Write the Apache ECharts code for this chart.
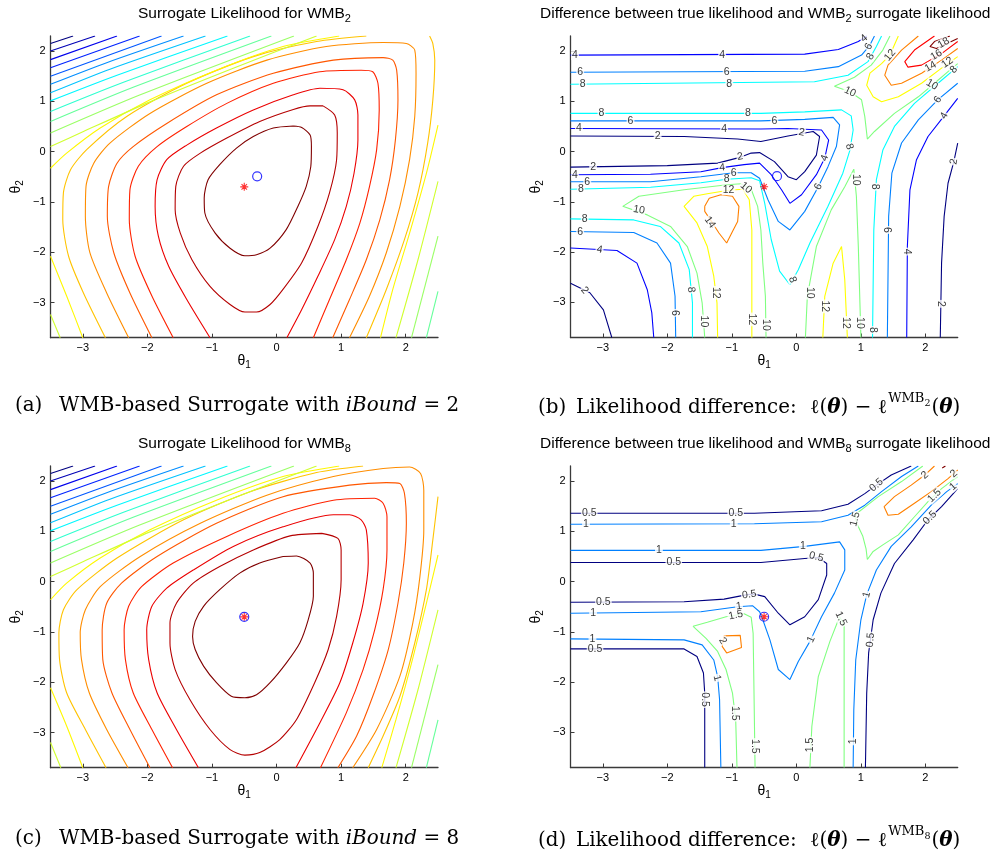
<!DOCTYPE html>
<html>
<head>
<meta charset="utf-8">
<script src="https://cdn.jsdelivr.net/npm/echarts@6/dist/echarts.min.js"></script>
<style>
  html, body { margin: 0; padding: 0; background: #ffffff; }
  #chart { width: 995px; height: 861px; }
</style>
</head>
<body>
<div id="chart"></div>
<script>
// ---- axis ticks shared by all four panels ----
const thetaTicks = [-3, -2, -1, 0, 1, 2];
const theta1Range = [-3.5, 2.5];
const theta2Range = [-3.7, 2.3];

// ---- maxima: true likelihood (asterisk) and surrogate (circle) ----
const trueMax = [-0.5, -0.7];
const wmb2Max = [-0.3, -0.49];
const wmb8Max = [-0.5, -0.7];

// ---- surrogate likelihood, iBound = 2: [level rank (1 = highest), points] ----
const wmb2Contours = [
  [1, [[0.26,0.51],[0.39,0.48],[0.52,0.33],[0.54,0.10],[0.53,-0.30],[0.46,-0.69],[0.33,-1.09],[0.15,-1.55],[-0.10,-1.92],[-0.31,-2.05],[-0.49,-2.07],[-0.72,-1.92],[-0.95,-1.62],[-1.11,-1.22],[-1.12,-0.92],[-1.06,-0.56],[-0.88,-0.26],[-0.62,0.07],[-0.36,0.30],[-0.05,0.47],[0.26,0.51]]],
  [2, [[0.72,0.91],[0.90,0.73],[0.94,0.37],[0.93,-0.16],[0.82,-0.82],[0.64,-1.49],[0.39,-2.21],[0.10,-2.74],[-0.10,-3.04],[-0.31,-3.19],[-0.49,-3.19],[-0.72,-3.04],[-1.03,-2.68],[-1.31,-2.15],[-1.49,-1.62],[-1.57,-1.15],[-1.56,-0.69],[-1.44,-0.29],[-1.18,-0.03],[-0.77,0.27],[-0.26,0.60],[0.26,0.84],[0.52,0.91],[0.72,0.91]]],
  [3, [[-1.03,-3.7],[-1.39,-2.94],[-1.67,-2.28],[-1.83,-1.68],[-1.88,-1.09],[-1.85,-0.56],[-1.70,-0.16],[-1.39,0.13],[-0.93,0.47],[-0.36,0.83],[0.26,1.13],[0.67,1.26],[1.03,1.23],[1.21,1.03],[1.26,0.73],[1.26,0.23],[1.20,-0.43],[1.08,-1.09],[0.90,-1.75],[0.64,-2.48],[0.39,-3.14],[0.16,-3.7]]],
  [4, [[-1.60,-3.7],[-1.93,-2.87],[-2.19,-2.08],[-2.28,-1.35],[-2.27,-0.76],[-2.14,-0.29],[-1.85,0.10],[-1.39,0.50],[-0.77,0.96],[-0.05,1.36],[0.67,1.59],[1.31,1.62],[1.49,1.59],[1.57,1.36],[1.59,0.83],[1.55,0.04],[1.44,-0.69],[1.29,-1.42],[1.08,-2.15],[0.82,-2.94],[0.57,-3.7]]],
  [5, [[-1.93,-3.7],[-2.27,-2.81],[-2.52,-2.01],[-2.62,-1.29],[-2.60,-0.69],[-2.47,-0.23],[-2.22,0.10],[-1.70,0.56],[-0.93,1.13],[-0.05,1.56],[0.88,1.82],[1.65,1.87],[1.80,1.82],[1.86,1.62],[1.88,1.03],[1.84,0.23],[1.75,-0.56],[1.60,-1.35],[1.39,-2.15],[1.13,-2.94],[0.87,-3.7]]],
  [6, [[-2.29,-3.7],[-2.63,-2.81],[-2.89,-2.01],[-2.96,-1.29],[-2.95,-0.69],[-2.83,-0.23],[-2.58,0.17],[-1.96,0.76],[-1.08,1.36],[-0.15,1.82],[0.77,2.09],[1.65,2.17],[2.01,2.15],[2.14,2.02],[2.16,1.56],[2.14,0.70],[2.06,-0.16],[1.91,-1.09],[1.70,-2.01],[1.44,-2.87],[1.13,-3.7]]],
  [7, [[-2.65,-3.7],[-2.99,-2.81],[-3.22,-2.08],[-3.31,-1.35],[-3.30,-0.82],[-3.19,-0.36],[-2.94,0.04],[-2.32,0.70],[-1.39,1.36],[-0.36,1.89],[0.62,2.19],[1.39,2.3]]],
  [7, [[2.37,2.3],[2.42,2.15],[2.45,1.82],[2.42,1.03],[2.34,0.17],[2.19,-0.82],[1.98,-1.75],[1.70,-2.74],[1.39,-3.7]]],
  [8, [[-3.5,-0.33],[-3.25,-0.03],[-2.73,0.47],[-1.96,1.03],[-0.93,1.62],[0.10,2.09],[0.97,2.3]]],
  [8, [[2.5,0.53],[2.32,-0.43],[2.06,-1.62],[1.80,-2.74],[1.61,-3.7]]],
  [8, [[-3.5,-2.08],[-3.25,-2.87],[-3.0,-3.7]]],
  [9, [[-3.5,0.10],[-2.99,0.40],[-1.96,0.99],[-0.67,1.66],[0.62,2.3]]],
  [9, [[2.5,-0.59],[2.19,-2.15],[1.85,-3.7]]],
  [9, [[-3.5,-3.24],[-3.35,-3.7]]],
  [10, [[-3.5,0.37],[-2.11,1.13],[0.27,2.3]]],
  [10, [[2.5,-1.68],[2.09,-3.7]]],
  [11, [[-3.5,0.60],[-2.22,1.28],[-0.08,2.3]]],
  [11, [[2.5,-2.78],[2.32,-3.7]]],
  [12, [[-3.5,0.80],[-2.37,1.38],[-0.41,2.3]]],
  [13, [[-3.5,1.01],[-2.47,1.52],[-0.76,2.3]]],
  [14, [[-3.5,1.17],[-2.58,1.64],[-1.10,2.3]]],
  [15, [[-3.5,1.34],[-2.63,1.77],[-1.44,2.3]]],
  [16, [[-3.5,1.50],[-1.78,2.3]]],
  [17, [[-3.5,1.67],[-2.12,2.3]]],
  [18, [[-3.5,1.83],[-2.47,2.3]]],
  [19, [[-3.5,2.00],[-2.81,2.3]]],
  [20, [[-3.5,2.15],[-3.15,2.3]]]
];

// ---- surrogate likelihood, iBound = 8 ----
const wmb8Contours = [
  [1, [[0.10,0.50],[0.31,0.51],[0.52,0.37],[0.57,0.17],[0.57,-0.29],[0.49,-0.76],[0.36,-1.22],[0.15,-1.62],[-0.10,-2.01],[-0.31,-2.25],[-0.49,-2.31],[-0.70,-2.28],[-0.93,-2.01],[-1.13,-1.68],[-1.26,-1.35],[-1.30,-1.09],[-1.26,-0.79],[-1.13,-0.49],[-0.88,-0.16],[-0.57,0.17],[-0.26,0.37],[0.10,0.50]]],
  [2, [[0.70,0.96],[0.95,0.86],[1.00,0.63],[1.00,0.04],[0.93,-0.69],[0.80,-1.35],[0.59,-2.01],[0.31,-2.74],[0.05,-3.14],[-0.26,-3.40],[-0.49,-3.45],[-0.72,-3.34],[-1.03,-2.94],[-1.34,-2.35],[-1.57,-1.75],[-1.65,-1.22],[-1.65,-0.82],[-1.55,-0.43],[-1.29,-0.03],[-0.88,0.30],[-0.36,0.63],[0.21,0.91],[0.70,0.96]]],
  [3, [[-1.21,-3.7],[-1.55,-2.94],[-1.85,-2.21],[-1.98,-1.55],[-2.01,-0.96],[-1.93,-0.49],[-1.70,-0.13],[-1.29,0.23],[-0.67,0.70],[0.10,1.09],[0.88,1.33],[1.13,1.33],[1.31,1.23],[1.39,1.03],[1.42,0.37],[1.34,-0.43],[1.18,-1.22],[0.98,-2.01],[0.67,-2.81],[0.30,-3.7]]],
  [4, [[-1.61,-3.7],[-1.93,-2.94],[-2.22,-2.21],[-2.34,-1.55],[-2.36,-0.96],[-2.29,-0.49],[-2.09,-0.10],[-1.60,0.37],[-0.77,0.90],[0.10,1.36],[0.88,1.62],[1.52,1.66],[1.65,1.56],[1.71,1.29],[1.71,0.63],[1.65,-0.16],[1.52,-0.96],[1.34,-1.75],[1.08,-2.61],[0.68,-3.7]]],
  [5, [[-1.96,-3.7],[-2.27,-2.94],[-2.55,-2.21],[-2.69,-1.55],[-2.70,-0.96],[-2.63,-0.43],[-2.40,-0.03],[-1.85,0.50],[-0.93,1.16],[0.10,1.69],[1.13,1.92],[1.70,1.97],[1.91,1.95],[1.98,1.76],[2.01,1.16],[1.97,0.37],[1.88,-0.43],[1.73,-1.35],[1.49,-2.28],[1.24,-3.07],[0.95,-3.7]]],
  [6, [[-2.30,-3.7],[-2.63,-2.94],[-2.90,-2.21],[-3.02,-1.55],[-3.04,-1.02],[-2.96,-0.56],[-2.73,-0.10],[-2.11,0.50],[-1.18,1.16],[-0.15,1.72],[0.88,2.09],[1.65,2.25],[2.06,2.28],[2.23,2.15],[2.28,1.82],[2.28,1.03],[2.22,0.10],[2.11,-0.82],[1.91,-1.88],[1.55,-2.94],[1.18,-3.7]]],
  [7, [[-2.64,-3.7],[-2.96,-2.94],[-3.25,-2.21],[-3.36,-1.55],[-3.37,-1.02],[-3.30,-0.56],[-3.09,-0.16],[-2.47,0.47],[-1.44,1.23],[-0.41,1.79],[0.62,2.17],[1.34,2.3]]],
  [7, [[2.5,1.69],[2.42,0.83],[2.32,-0.16],[2.14,-1.22],[1.91,-2.28],[1.65,-3.07],[1.42,-3.7]]],
  [8, [[-3.5,-0.36],[-3.25,-0.03],[-2.73,0.47],[-1.96,1.03],[-0.93,1.62],[0.10,2.09],[0.97,2.3]]],
  [8, [[2.5,0.53],[2.32,-0.43],[2.09,-1.62],[1.85,-2.74],[1.63,-3.7]]],
  [8, [[-3.5,-2.11],[-3.25,-2.87],[-3.0,-3.7]]],
  [9, [[-3.5,0.10],[-2.99,0.40],[-1.96,0.99],[-0.67,1.66],[0.62,2.3]]],
  [9, [[2.5,-0.56],[2.19,-2.15],[1.85,-3.7]]],
  [9, [[-3.5,-3.2],[-3.34,-3.7]]],
  [10, [[-3.5,0.37],[-2.11,1.13],[0.27,2.3]]],
  [10, [[2.5,-1.65],[2.09,-3.7]]],
  [11, [[-3.5,0.60],[-2.22,1.28],[-0.08,2.3]]],
  [11, [[2.5,-2.75],[2.32,-3.7]]],
  [12, [[-3.5,0.80],[-2.37,1.38],[-0.41,2.3]]],
  [13, [[-3.5,1.01],[-2.47,1.52],[-0.76,2.3]]],
  [14, [[-3.5,1.17],[-2.58,1.64],[-1.10,2.3]]],
  [15, [[-3.5,1.34],[-2.63,1.77],[-1.44,2.3]]],
  [16, [[-3.5,1.50],[-1.78,2.3]]],
  [17, [[-3.5,1.67],[-2.12,2.3]]],
  [18, [[-3.5,1.83],[-2.47,2.3]]],
  [19, [[-3.5,2.00],[-2.81,2.3]]],
  [20, [[-3.5,2.15],[-3.15,2.3]]]
];
const surrogateLevelCount = 20;

// ---- likelihood difference, iBound = 2: [level, points] ----
const diff2Levels = [2, 4, 6, 8, 10, 12, 14, 16, 18];
const diff2Contours = [
  [4, [[-3.5,1.92],[0.13,1.94],[0.65,2.03],[0.96,2.19],[1.09,2.3]]],
  [6, [[-3.5,1.58],[0.13,1.60],[0.65,1.69],[1.01,1.92],[1.14,2.12],[1.21,2.3]]],
  [8, [[-3.5,1.34],[0.28,1.39],[0.80,1.52],[1.11,1.79],[1.24,2.09],[1.32,2.3]]],
  [2, [[-3.5,0.31],[-1.74,0.30],[-0.91,0.25],[-0.55,0.20],[-0.13,0.31],[0.26,0.40],[0.36,0.30],[0.31,-0.07],[0.13,-0.40],[0,-0.56],[-0.13,-0.50],[-0.34,-0.20],[-0.57,-0.02],[-0.70,-0.03],[-0.86,-0.11],[-1.22,-0.23],[-2.0,-0.28],[-3.5,-0.31]]],
  [4, [[-3.5,0.46],[-0.55,0.45],[-0.13,0.46],[0.39,0.43],[0.50,0.23],[0.44,-0.13],[0.31,-0.46],[0.08,-0.86],[-0.10,-1.03],[-0.23,-0.76],[-0.39,-0.46],[-0.57,-0.23],[-0.81,-0.26],[-1.15,-0.32],[-1.48,-0.40],[-2.26,-0.45],[-3.5,-0.46]]],
  [6, [[-3.5,0.61],[-0.55,0.61],[0.13,0.64],[0.57,0.68],[0.67,0.53],[0.62,0.10],[0.49,-0.30],[0.34,-0.70],[0.13,-1.19],[-0.10,-1.56],[-0.28,-1.39],[-0.44,-0.96],[-0.57,-0.53],[-0.70,-0.42],[-0.97,-0.42],[-1.48,-0.50],[-2.26,-0.60],[-3.5,-0.60]]],
  [8, [[-3.5,0.76],[-0.55,0.76],[0.13,0.79],[0.70,0.83],[0.85,0.71],[0.88,0.43],[0.83,0.03],[0.72,-0.43],[0.49,-1.09],[0.21,-1.82],[0.03,-2.35],[-0.10,-2.65],[-0.26,-2.38],[-0.39,-1.75],[-0.49,-1.03],[-0.57,-0.58],[-0.70,-0.52],[-1.08,-0.55],[-1.48,-0.62],[-2.26,-0.71],[-3.5,-0.75]]],
  [10, [[-1.42,-3.7],[-1.46,-3.01],[-1.54,-2.42],[-1.69,-1.89],[-1.95,-1.49],[-2.31,-1.26],[-2.69,-1.09],[-2.44,-0.89],[-1.74,-0.76],[-1.07,-0.66],[-0.86,-0.64],[-0.70,-0.75],[-0.60,-1.09],[-0.55,-1.56],[-0.52,-2.22],[-0.48,-2.88],[-0.47,-3.7]]],
  [12, [[-1.22,-3.7],[-1.23,-3.01],[-1.28,-2.48],[-1.38,-1.89],[-1.54,-1.42],[-1.74,-1.09],[-1.59,-0.89],[-1.38,-0.84],[-1.05,-0.77],[-0.83,-0.75],[-0.73,-0.96],[-0.69,-1.56],[-0.69,-2.55],[-0.69,-3.7]]],
  [14, [[-1.42,-1.09],[-1.35,-0.93],[-1.17,-0.86],[-0.99,-0.89],[-0.89,-1.09],[-0.91,-1.39],[-0.99,-1.59],[-1.08,-1.82],[-1.20,-1.62],[-1.30,-1.42],[-1.42,-1.19],[-1.42,-1.09]]],
  [8, [[-3.5,-1.34],[-2.52,-1.36],[-2.11,-1.49],[-1.82,-1.82],[-1.66,-2.35],[-1.61,-3.01],[-1.61,-3.7]]],
  [6, [[-3.5,-1.59],[-2.52,-1.61],[-2.16,-1.82],[-1.95,-2.22],[-1.88,-2.88],[-1.87,-3.7]]],
  [4, [[-3.5,-1.92],[-2.78,-1.97],[-2.47,-2.22],[-2.31,-2.75],[-2.24,-3.21],[-2.21,-3.7]]],
  [2, [[-3.5,-2.62],[-3.20,-2.81],[-2.99,-3.15],[-2.86,-3.7]]],
  [10, [[0.14,-3.7],[0.17,-2.88],[0.31,-1.89],[0.54,-1.16],[0.75,-0.70],[0.89,-0.35],[0.93,-0.89],[0.96,-1.89],[1.0,-3.7]]],
  [12, [[0.41,-3.7],[0.44,-2.88],[0.57,-2.22],[0.70,-1.89],[0.75,-2.55],[0.79,-3.7]]],
  [8, [[2.5,1.69],[2.25,1.42],[1.83,0.96],[1.52,0.50],[1.34,0.03],[1.24,-0.56],[1.20,-1.56],[1.18,-3.7]]],
  [6, [[2.5,1.36],[2.19,1.03],[1.89,0.63],[1.63,0.17],[1.48,-0.43],[1.43,-1.29],[1.41,-3.7]]],
  [4, [[2.5,1.06],[2.29,0.71],[2.04,0.30],[1.86,-0.17],[1.76,-0.76],[1.72,-1.89],[1.71,-3.7]]],
  [2, [[2.5,0.17],[2.44,-0.20],[2.35,-0.63],[2.29,-1.29],[2.25,-2.22],[2.23,-3.7]]],
  [10, [[1.45,2.3],[1.34,2.02],[1.16,1.72],[0.90,1.48],[0.59,1.30],[0.83,1.19],[1.01,1.03],[1.06,0.70],[1.10,0.25],[1.21,0.40],[1.52,0.76],[1.89,1.09],[2.14,1.36],[2.35,1.59],[2.5,1.75]]],
  [12, [[1.58,2.3],[1.45,1.92],[1.32,1.75],[1.14,1.56],[1.09,1.32],[1.19,1.09],[1.32,0.99],[1.58,1.09],[1.94,1.36],[2.25,1.66],[2.5,1.89]]],
  [14, [[1.89,2.3],[1.63,2.02],[1.42,1.72],[1.37,1.52],[1.47,1.32],[1.63,1.36],[1.94,1.56],[2.25,1.82],[2.5,2.05]]],
  [16, [[2.14,2.3],[1.83,2.02],[1.68,1.79],[1.73,1.68],[1.94,1.72],[2.25,1.95],[2.5,2.19]]],
  [18, [[2.38,2.3],[2.14,2.19],[2.07,2.09],[2.17,2.05],[2.5,2.25]]]
];
// inline labels: [level, theta1, theta2, rotation in degrees]
const diff2Labels = [
  [4,-3.43,1.92,0],[4,-1.15,1.92,0],[6,-3.35,1.58,0],[6,-1.08,1.58,0],
  [8,-3.31,1.34,0],[8,-1.04,1.34,0],[8,-3.02,0.76,0],[8,-0.75,0.76,0],
  [6,-2.57,0.61,0],[4,-3.37,0.46,0],[4,-1.12,0.45,0],[2,-2.15,0.30,0],
  [2,-3.15,-0.31,0],[2,-0.87,-0.10,10],[4,-3.43,-0.46,0],[4,-1.15,-0.32,5],
  [6,-3.24,-0.60,0],[6,-0.97,-0.42,0],[8,-3.34,-0.75,0],[8,-1.08,-0.55,0],
  [10,-2.44,-1.16,-10],[12,-1.05,-0.77,0],[10,-0.78,-0.72,-40],[14,-1.34,-1.41,-55],
  [8,-3.28,-1.35,0],[6,-3.35,-1.60,0],[4,-3.05,-1.95,-10],[2,-3.28,-2.76,-50],
  [8,-1.63,-2.75,-85],[6,-1.88,-3.21,-90],[12,-1.25,-2.81,-90],[10,-1.44,-3.38,-90],[12,-0.69,-3.34,-90],
  [4,1.05,2.25,40],[6,1.12,2.09,60],[8,1.15,1.89,60],[12,1.45,1.92,50],
  [18,2.28,2.16,30],[16,2.17,1.92,30],[14,2.08,1.69,30],[12,2.34,1.77,35],[10,2.10,1.33,-30],
  [8,2.44,1.63,45],[6,2.19,1.03,55],[4,2.29,0.71,60],
  [10,0.83,1.19,-25],[6,-0.34,0.61,0],[2,0.08,0.38,-10],[8,0.82,0.10,-75],[4,0.44,-0.13,70],[6,0.34,-0.70,65],[8,-0.06,-2.55,-70],
  [10,0.93,-0.56,-90],[8,1.22,-0.70,-90],[6,1.41,-1.56,-90],[4,1.71,-1.99,-90],[2,2.44,-0.20,80],[2,2.24,-3.03,-90],
  [10,0.21,-2.81,-90],[12,0.44,-3.08,-90],[12,0.77,-3.41,-90],[10,0.99,-3.41,-90],[8,1.18,-3.55,-90],[10,-0.47,-3.45,-90]
];

// ---- likelihood difference, iBound = 8 ----
const diff8Levels = [0.5, 1, 1.5, 2, 2.5];
const diff8Contours = [
  [0.5, [[-3.5,1.36],[-0.65,1.36],[0.39,1.41],[0.80,1.54],[1.06,1.75],[1.24,1.92],[1.47,2.12],[1.78,2.3]]],
  [1, [[-3.5,1.14],[-0.65,1.15],[0.39,1.19],[0.80,1.32],[1.06,1.52],[1.32,1.79],[1.63,2.09],[1.89,2.3]]],
  [1.5, [[1.96,2.3],[1.63,1.99],[1.27,1.69],[0.90,1.32],[0.95,1.12],[1.03,0.90],[1.08,0.65],[1.10,0.44],[1.19,0.60],[1.34,0.73],[1.58,0.93],[1.83,1.29],[2.04,1.59],[2.25,1.85],[2.5,2.09]]],
  [2, [[2.14,2.3],[1.99,2.12],[1.78,1.92],[1.52,1.69],[1.36,1.49],[1.42,1.32],[1.58,1.34],[1.83,1.56],[2.09,1.79],[2.35,2.05],[2.5,2.22]]],
  [2.5, [[2.26,2.26],[2.31,2.3]]],
  [0.5, [[1.07,-3.7],[1.09,-2.22],[1.12,-1.42],[1.19,-0.76],[1.31,-0.23],[1.52,0.36],[1.81,0.83],[2.04,1.23],[2.25,1.49],[2.5,1.85]]],
  [1, [[0.88,-3.7],[0.89,-2.55],[0.92,-1.56],[1.0,-0.76],[1.09,-0.26],[1.24,0.23],[1.47,0.70],[1.78,1.09],[2.09,1.52],[2.33,1.79],[2.5,1.95]]],
  [1.5, [[0.21,-3.7],[0.24,-2.88],[0.34,-1.89],[0.52,-1.19],[0.67,-0.70],[0.74,-0.86],[0.74,-1.89],[0.74,-3.7]]],
  [0.5, [[-3.5,0.38],[-0.55,0.38],[0.13,0.46],[0.34,0.48],[0.47,0.36],[0.47,0.13],[0.34,-0.36],[0.13,-0.70],[-0.10,-0.86],[-0.28,-0.63],[-0.49,-0.30],[-0.65,-0.25],[-0.76,-0.26],[-1.12,-0.35],[-1.74,-0.40],[-3.5,-0.41]]],
  [1, [[-3.5,0.62],[-0.55,0.62],[0.13,0.70],[0.67,0.79],[0.75,0.63],[0.75,0.23],[0.59,-0.23],[0.39,-0.70],[0.21,-1.19],[0.03,-1.59],[-0.10,-1.95],[-0.28,-1.75],[-0.41,-1.16],[-0.52,-0.76],[-0.57,-0.60],[-0.68,-0.48],[-0.91,-0.50],[-1.48,-0.60],[-3.5,-0.63]]],
  [1.5, [[-0.64,-3.7],[-0.66,-1.89],[-0.67,-1.03],[-0.70,-0.71],[-0.81,-0.64],[-1.09,-0.70],[-1.38,-0.81],[-1.60,-0.89],[-1.40,-1.13],[-1.22,-1.39],[-1.09,-1.75],[-0.99,-2.22],[-0.94,-2.75],[-0.92,-3.7]]],
  [2, [[-1.12,-1.08],[-0.87,-1.07],[-0.85,-1.31],[-1.08,-1.42],[-1.15,-1.29],[-1.12,-1.08]]],
  [0.5, [[-3.5,-1.34],[-1.74,-1.34],[-1.54,-1.49],[-1.44,-1.82],[-1.42,-2.22],[-1.42,-3.7]]],
  [1, [[-3.5,-1.14],[-1.74,-1.16],[-1.46,-1.26],[-1.28,-1.56],[-1.22,-1.89],[-1.19,-2.35],[-1.17,-3.7]]]
];
const diff8Labels = [
  [0.5,-3.21,1.36,0],[0.5,-0.94,1.36,0],[0.5,1.24,1.92,40],
  [1,-3.26,1.14,0],[1,-0.97,1.14,0],[1,-2.13,0.62,0],[0.5,-1.90,0.38,0],
  [0.5,-2.99,-0.41,0],[0.5,-0.73,-0.26,8],[1,-3.15,-0.63,0],[1,-0.89,-0.49,8],
  [1.5,-0.94,-0.67,12],[2,-1.14,-1.18,-60],[1,-3.16,-1.15,0],[0.5,-3.12,-1.34,0],
  [1,-1.23,-1.92,-75],[0.5,-1.42,-2.35,-90],[1.5,-0.95,-2.62,-90],[1.5,-0.64,-3.28,-90],
  [1,0.10,0.70,0],[0.5,0.31,0.49,-15],[1,0.23,-1.15,65],[1.5,0.69,-0.74,-65],
  [1.5,0.22,-3.25,90],[1,0.88,-3.18,90],[1,1.09,-0.26,75],[0.5,1.15,-1.16,85],
  [0.5,2.07,1.27,45],[1,2.43,1.89,40],[1.5,0.91,1.24,75],[1.5,2.14,1.71,45],[2,1.99,2.12,40],[2,2.44,2.15,40]
];

// ---- text ----
const plotTitles = [
  ['Surrogate Likelihood for WMB', '2'],
  ['Difference between true likelihood and WMB', '2', ' surrogate likelihood'],
  ['Surrogate Likelihood for WMB', '8'],
  ['Difference between true likelihood and WMB', '8', ' surrogate likelihood']
];

// ---- drawing ----
const SANS = "'Liberation Sans', Arial, Helvetica, sans-serif";
const SERIF = "'DejaVu Serif', serif";

function jet(t) {
  const c = v => Math.round(255 * Math.max(0, Math.min(1, v)));
  return 'rgb(' + c(Math.min(4 * t - 1.5, -4 * t + 4.5)) + ',' +
    c(Math.min(4 * t - 0.5, -4 * t + 3.5)) + ',' + c(Math.min(4 * t + 0.5, -4 * t + 2.5)) + ')';
}
const rankColor = r => jet((surrogateLevelCount - r) / (surrogateLevelCount - 1));
const levelColor = levels => v => jet((v - levels[0]) / (levels[levels.length - 1] - levels[0]));

const fmtTick = v => (v < 0 ? '\u2212' + Math.abs(v) : String(v));

const gridBoxes = [
  { left: 50.5, top: 36, width: 387.5, height: 301.7 },
  { left: 570.5, top: 36, width: 387.2, height: 301.5 },
  { left: 50.5, top: 466, width: 387.5, height: 301.7 },
  { left: 570.5, top: 466, width: 387.2, height: 301.5 }
];

const axisColor = '#3a3a3a';
const nameRich = {
  t: { fontFamily: SANS, fontSize: 14, color: '#000' },
  s: { fontFamily: SANS, fontSize: 10, color: '#000', padding: [8, 0, 0, 0] }
};

function xAxisFor(i) {
  return {
    type: 'value', gridIndex: i, min: theta1Range[0], max: theta1Range[1],
    axisLine: { onZero: false, lineStyle: { color: axisColor, width: 1.3 } },
    axisTick: { inside: true, length: 4, customValues: thetaTicks, lineStyle: { color: axisColor, width: 1 } },
    axisLabel: { customValues: thetaTicks, formatter: fmtTick, color: '#000', fontFamily: SANS, fontSize: 11, margin: 5 },
    splitLine: { show: false },
    name: '{t|\u03b8}{s|1}', nameLocation: 'middle', nameGap: 12,
    nameTextStyle: { rich: nameRich }
  };
}
function yAxisFor(i) {
  return {
    type: 'value', gridIndex: i, min: theta2Range[0], max: theta2Range[1],
    axisLine: { onZero: false, lineStyle: { color: axisColor, width: 1.3 } },
    axisTick: { inside: true, length: 4, customValues: thetaTicks, lineStyle: { color: axisColor, width: 1 } },
    axisLabel: { customValues: thetaTicks, formatter: fmtTick, color: '#000', fontFamily: SANS, fontSize: 11, margin: 5 },
    splitLine: { show: false },
    name: '{t|\u03b8}{s|2}', nameLocation: 'middle', nameGap: 25,
    nameTextStyle: { rich: nameRich }
  };
}

function contourLines(pieces, gi, colorOf, smooth) {
  return pieces.map(([lev, pts]) => ({
    type: 'line', xAxisIndex: gi, yAxisIndex: gi, data: pts,
    symbol: 'none', showSymbol: false, smooth: smooth, silent: true, clip: true, z: 2,
    lineStyle: { color: colorOf(lev), width: 1.1 }
  }));
}
function contourLabels(labels, gi) {
  return {
    type: 'scatter', xAxisIndex: gi, yAxisIndex: gi, symbolSize: 1, silent: true, z: 5,
    itemStyle: { color: 'rgba(0,0,0,0)' },
    data: labels.map(([v, x, y, r]) => ({ value: [x, y], label: { formatter: String(v), rotate: r } })),
    label: { show: true, position: 'inside', fontFamily: SANS, fontSize: 10.5, color: '#000',
      backgroundColor: '#ffffff', padding: [0, 1], lineHeight: 10 }
  };
}
const STAR = 'path://M5 0L5 10M0 5L10 5M1.6 1.6L8.4 8.4M1.6 8.4L8.4 1.6';
function maxMarkers(gi, surMax) {
  return [
    { type: 'scatter', xAxisIndex: gi, yAxisIndex: gi, data: [surMax], symbol: 'circle', symbolSize: 9,
      silent: true, z: 6, itemStyle: { color: 'rgba(0,0,0,0)', borderColor: '#0000ff', borderWidth: 1.2 } },
    { type: 'scatter', xAxisIndex: gi, yAxisIndex: gi, data: [trueMax], symbol: STAR, symbolSize: 8,
      silent: true, z: 7, itemStyle: { color: 'rgba(0,0,0,0)', borderColor: '#ff0000', borderWidth: 1.1 } }
  ];
}

function plotTitle(parts, x, top) {
  const text = '{m|' + parts[0] + '}{s|' + parts[1] + '}' + (parts[2] ? '{m|' + parts[2] + '}' : '');
  return {
    text: text, left: x, top: top, textAlign: 'left', padding: 0,
    textStyle: { fontWeight: 'normal', rich: {
      m: { fontFamily: SANS, fontSize: 15.5, fontWeight: 'normal', color: '#000' },
      s: { fontFamily: SANS, fontSize: 11, fontWeight: 'normal', color: '#000', padding: [9, 0, 0, 0] }
    } }
  };
}
const CAP = 19.9;
const capRich = {
  r: { fontFamily: SERIF, fontSize: CAP, fontWeight: 'normal', color: '#000' },
  ga: { fontFamily: SERIF, fontSize: CAP, fontWeight: 'normal', color: '#000', width: 44 },
  gb: { fontFamily: SERIF, fontSize: CAP, fontWeight: 'normal', color: '#000', width: 38 },
  lead: { fontFamily: SERIF, fontSize: CAP, fontWeight: 'normal', color: '#000', width: 234 },
  i: { fontFamily: SERIF, fontSize: CAP, fontStyle: 'italic', fontWeight: 'normal', color: '#000' },
  b: { fontFamily: SERIF, fontSize: CAP, fontStyle: 'italic', fontWeight: 'bold', color: '#000' },
  sup: { fontFamily: SERIF, fontSize: 13, fontWeight: 'normal', color: '#000', padding: [0, 0, 18, 1] },
  ss: { fontFamily: SERIF, fontSize: 9.5, fontWeight: 'normal', color: '#000', padding: [0, 1, 7, 0] }
};
function surrogateCaption(tag, bound, top) {
  return { text: '{ga|(' + tag + ')}{r|WMB-based Surrogate with }{i|iBound}{r| = ' + bound + '}',
    left: 15, top: top, padding: 0, textStyle: { fontWeight: 'normal', rich: capRich } };
}
function diffCaption(tag, bound, top) {
  return { text: '{gb|(' + tag + ')}{lead|Likelihood difference:}{r|\u2113(}{b|\u03b8}{r|) \u2212 \u2113}{sup|WMB}{ss|' + bound + '}{r|(}{b|\u03b8}{r|)}',
    left: 538, top: top, padding: 0, textStyle: { fontWeight: 'normal', rich: capRich } };
}

const series = [].concat(
  contourLines(wmb2Contours, 0, rankColor, 0.25),
  maxMarkers(0, wmb2Max),
  contourLines(diff2Contours, 1, levelColor(diff2Levels), false),
  [contourLabels(diff2Labels, 1)],
  maxMarkers(1, wmb2Max),
  contourLines(wmb8Contours, 2, rankColor, 0.25),
  maxMarkers(2, wmb8Max),
  contourLines(diff8Contours, 3, levelColor(diff8Levels), false),
  [contourLabels(diff8Labels, 3)],
  maxMarkers(3, wmb8Max)
);

const chart = echarts.init(document.getElementById('chart'), null, { renderer: 'canvas' });
chart.setOption({
  animation: false,
  backgroundColor: '#ffffff',
  title: [
    plotTitle(plotTitles[0], 138, 4),
    plotTitle(plotTitles[1], 540, 4),
    plotTitle(plotTitles[2], 138, 434),
    plotTitle(plotTitles[3], 540, 434),
    surrogateCaption('a', 2, 396),
    diffCaption('b', 2, 392),
    surrogateCaption('c', 8, 829),
    diffCaption('d', 8, 825)
  ],
  grid: gridBoxes.map(g => Object.assign({ containLabel: false }, g)),
  xAxis: [0, 1, 2, 3].map(xAxisFor),
  yAxis: [0, 1, 2, 3].map(yAxisFor),
  series: series
});
</script>
</body>
</html>
